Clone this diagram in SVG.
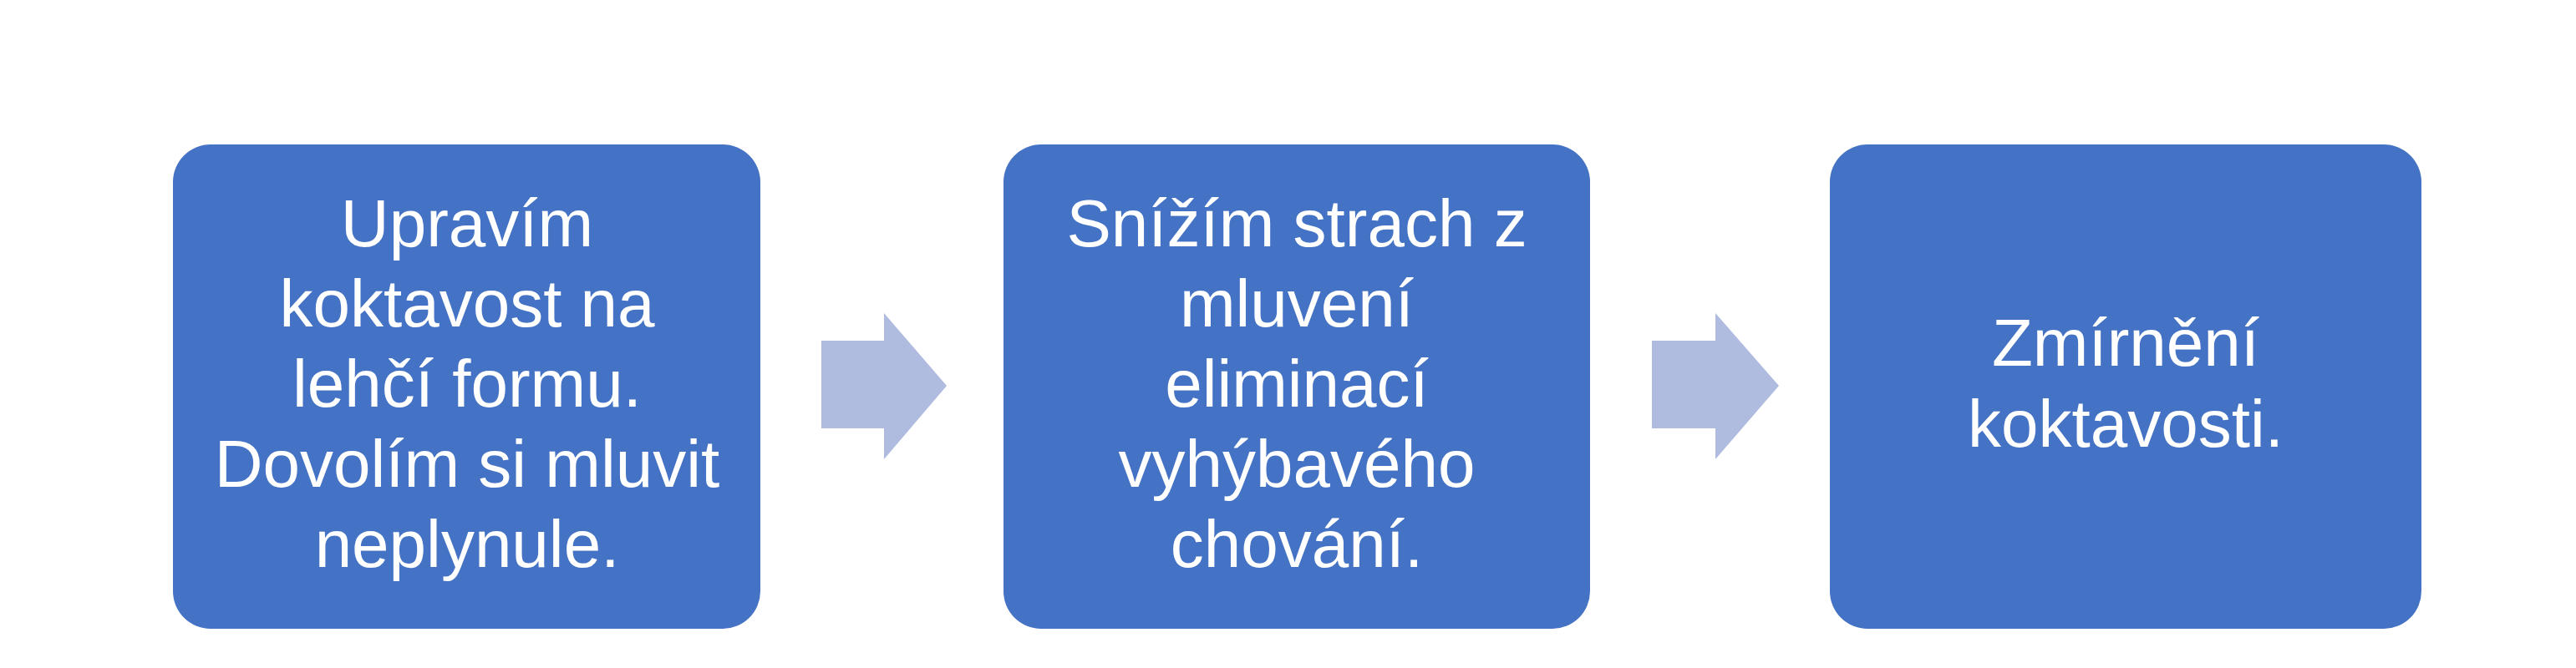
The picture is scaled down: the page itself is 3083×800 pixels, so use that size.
<svg xmlns="http://www.w3.org/2000/svg" width="3083" height="800" viewBox="0 0 3083 800">
<style>
.box{fill:#4472C4}
.arrow{fill:#AFBBDF}
.t{font-family:"Liberation Sans",Arial,sans-serif;font-size:80px;fill:#FFFFFF;text-anchor:middle}
</style>
<rect width="3083" height="800" fill="#FFFFFF"/>
<g id="connectors">
<polygon class="arrow" points="983,408 1058,408 1058,375 1133,462 1058,550 1058,513 983,513"/>
<polygon class="arrow" points="1977,408 2053,408 2053,375 2129,462 2053,550 2053,513 1977,513"/>
</g>
<g id="node1">
<rect class="box" x="207" y="173" width="703" height="580" rx="45" ry="45"/>
<text class="t" x="559" y="295">Upravím</text>
<text class="t" x="559" y="391">koktavost na</text>
<text class="t" x="559" y="487">lehčí formu.</text>
<text class="t" x="559" y="583">Dovolím si mluvit</text>
<text class="t" x="559" y="679">neplynule.</text>
</g>
<g id="node2">
<rect class="box" x="1201" y="173" width="702" height="580" rx="45" ry="45"/>
<text class="t" x="1552" y="295">Snížím strach z</text>
<text class="t" x="1552" y="391">mluvení</text>
<text class="t" x="1552" y="487">eliminací</text>
<text class="t" x="1552" y="583">vyhýbavého</text>
<text class="t" x="1552" y="679">chování.</text>
</g>
<g id="node3">
<rect class="box" x="2190" y="173" width="708" height="580" rx="45" ry="45"/>
<text class="t" x="2544" y="438">Zmírnění</text>
<text class="t" x="2544" y="535">koktavosti.</text>
</g>
</svg>
